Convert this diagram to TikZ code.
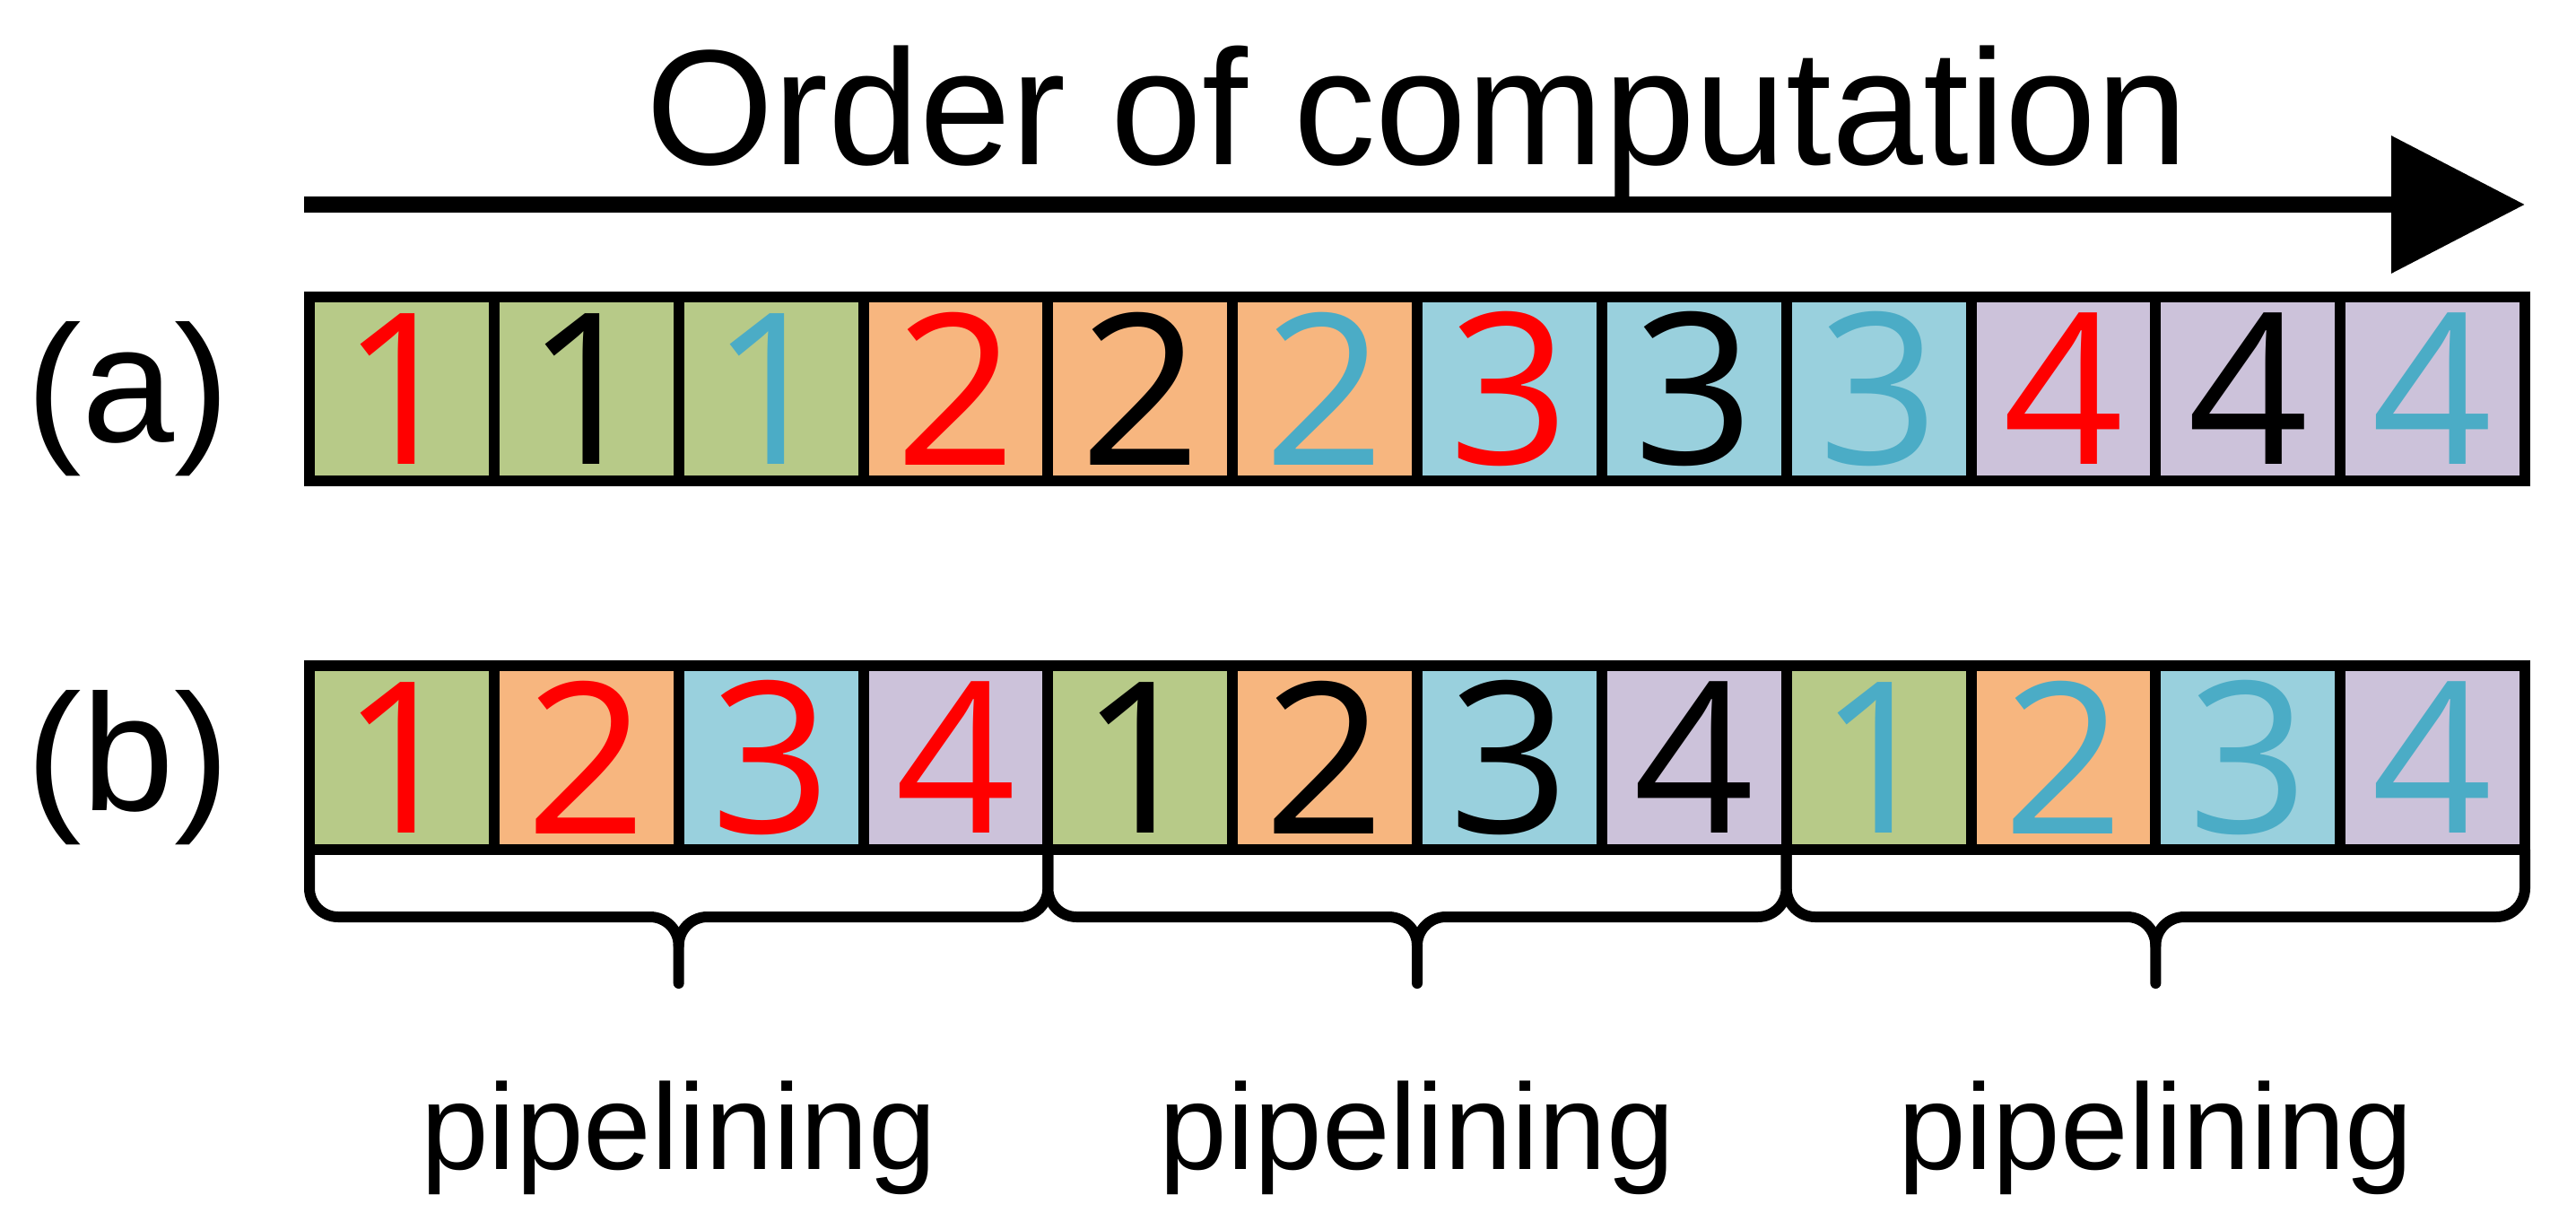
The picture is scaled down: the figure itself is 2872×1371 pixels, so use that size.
\documentclass[tikz,border=0pt]{standalone}
\usepackage{fontspec}
\setmainfont{Liberation Sans}
\newfontfamily\digitfont{Open Sans}
\usetikzlibrary{arrows.meta}
\definecolor{cgreen}{RGB}{183,202,136}
\definecolor{corange}{RGB}{247,182,127}
\definecolor{cblue}{RGB}{153,208,221}
\definecolor{cpurple}{RGB}{204,194,218}
\definecolor{dblue}{RGB}{75,172,198}
\begin{document}
\begin{tikzpicture}[x=0.25pt,y=-0.25pt,
  cell/.style={draw=black, line width=3pt, minimum width=51.458pt, minimum height=51.25pt,
    inner sep=0pt, outer sep=0pt, font=\digitfont\fontsize{58.8pt}{62pt}\selectfont},
  brace/.style={draw=black, line width=3pt, line cap=round, line join=round},
  label/.style={anchor=base, inner sep=0pt, font=\fontsize{46.25pt}{50pt}\selectfont},
  piptext/.style={anchor=base, inner sep=0pt, font=\fontsize{34pt}{38pt}\selectfont},
  titletext/.style={anchor=base, inner sep=0pt, font=\fontsize{45.75pt}{50pt}\selectfont},
  orderarrow/.style={line width=4.5pt, -{Triangle[length=37.25pt 0,width=37.25pt 0]}}]
\useasboundingbox (0,0) rectangle (2872,1371);

% title and arrow
\node[titletext] (title) at (1580,183) {Order of computation};
\coordinate (arrL) at (339,228);
\coordinate (arrR) at (2815,228);
\draw[orderarrow] (arrL) -- (arrR);

% row labels
\node[label] (la) at (143,492) {(a)};
\node[label] (lb) at (143,903) {(b)};

% row (a)
\foreach \i/\fc/\tc/\d in {1/cgreen/red/1, 2/cgreen/black/1, 3/cgreen/dblue/1,
  4/corange/red/2, 5/corange/black/2, 6/corange/dblue/2,
  7/cblue/red/3, 8/cblue/black/3, 9/cblue/dblue/3,
  10/cpurple/red/4, 11/cpurple/black/4, 12/cpurple/dblue/4}
  \node[cell, fill=\fc, text=\tc] (a\i) at ({345+(\i-0.5)*205.833},433.5) {\d};

% row (b)
\foreach \i/\fc/\tc/\d in {1/cgreen/red/1, 2/corange/red/2, 3/cblue/red/3, 4/cpurple/red/4,
  5/cgreen/black/1, 6/corange/black/2, 7/cblue/black/3, 8/cpurple/black/4,
  9/cgreen/dblue/1, 10/corange/dblue/2, 11/cblue/dblue/3, 12/cpurple/dblue/4}
  \node[cell, fill=\fc, text=\tc] (b\i) at ({345+(\i-0.5)*205.833},844.5) {\d};

% braces
\foreach \s/\e/\k in {1/4/1, 5/8/2, 9/12/3} {
  \draw[brace] (b\s.south west) -- ++(0,43)
    .. controls +(0,17.7) and +(-17.7,0) .. ++(32,32) -- ++(347.67,0)
    .. controls +(17.7,0) and +(0,-17.7) .. ++(32,32) -- ++(0,42) coordinate (tip\k);
  \draw[brace] (b\e.south east) -- ++(0,43)
    .. controls +(0,17.7) and +(17.7,0) .. ++(-32,32) -- ++(-347.67,0)
    .. controls +(-17.7,0) and +(0,-17.7) .. ++(-32,32);
  \node[piptext] (pip\k) at (tip\k |- 0,1303) {pipelining};
}
\end{tikzpicture}
\end{document}
